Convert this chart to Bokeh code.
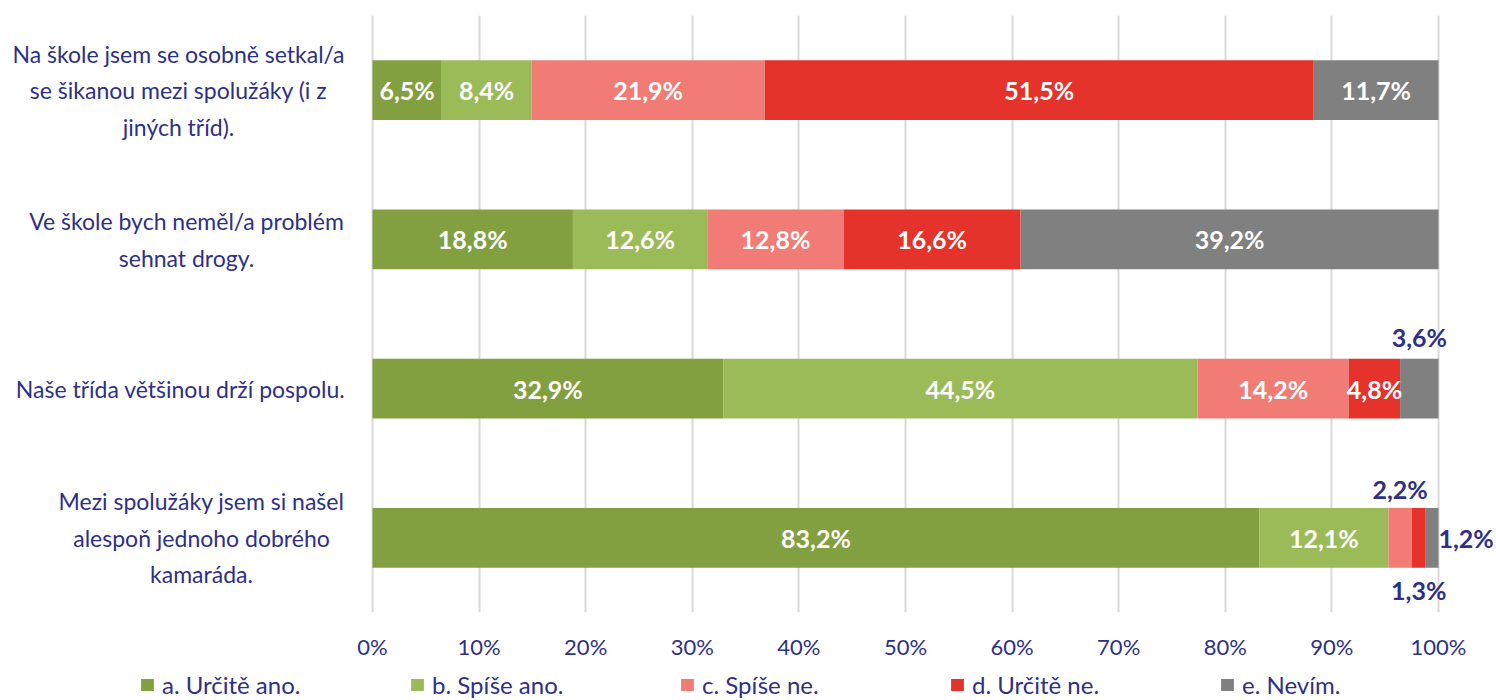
from bokeh.plotting import figure
from bokeh.layouts import column
from bokeh.models import (ColumnDataSource, FixedTicker, PrintfTickFormatter,
                          Legend, LegendItem, Label)
from bokeh.embed import file_html
from bokeh.resources import INLINE
from bokeh.core.properties import value

# ---------------- data ----------------
questions = [
    "Na škole jsem se osobně setkal/a\nse šikanou mezi spolužáky (i z\njiných tříd).",
    "Ve škole bych neměl/a problém\nsehnat drogy.",
    "Naše třída většinou drží pospolu.",
    "Mezi spolužáky jsem si našel\nalespoň jednoho dobrého\nkamaráda.",
]
series_names = ["a. Určitě ano.", "b. Spíše ano.", "c. Spíše ne.", "d. Určitě ne.", "e. Nevím."]
a_vals = [6.5, 18.8, 32.9, 83.2]
b_vals = [8.4, 12.6, 44.5, 12.1]
c_vals = [21.9, 12.8, 14.2, 2.2]
d_vals = [51.5, 16.6, 4.8, 1.3]
e_vals = [11.7, 39.2, 3.6, 1.2]
x_ticks = [0, 10, 20, 30, 40, 50, 60, 70, 80, 90, 100]

# ---------------- styling ----------------
colors = ["#82A03F", "#9BBB59", "#F07C75", "#E5322A", "#808080"]
NAVY = "#2E3087"
FONT = "Lato"
PX_PER_UNIT = 10.66       # screen pixels per percentage point
ZERO_PX = 372             # screen x of the 0 % line
W = 1494
# outside-label placement for small segments: (row, series) -> (mode, y_offset)
outside = {(2, 4): ("c", -52), (3, 2): ("c", -49), (3, 3): ("c", 52), (3, 4): ("l", 0)}
label_cx = [178, 186, 180, 201]  # screen x of question label centres

all_vals = [a_vals, b_vals, c_vals, d_vals, e_vals]
n = len(questions)
ys = [n - i - 0.5 for i in range(n)]

p = figure(width=W, height=666,
           x_range=(-ZERO_PX / PX_PER_UNIT, (W - ZERO_PX) / PX_PER_UNIT), y_range=(0, n),
           output_backend="svg", toolbar_location=None,
           min_border_left=0, min_border_right=0, min_border_top=15,
           min_border_bottom=54)
p.outline_line_color = None
p.background_fill_color = "white"
p.border_fill_color = "white"

left = [0.0] * n
renderers = []
lab_in = dict(x=[], y=[], t=[])
lab_out_c = dict(x=[], y=[], t=[], yo=[])
lab_out_l = dict(x=[], y=[], t=[], yo=[])
for s, vals in enumerate(all_vals):
    right = [l + v for l, v in zip(left, vals)]
    src = ColumnDataSource(dict(y=ys, left=left, right=right))
    r = p.hbar(y="y", left="left", right="right", height=0.4, source=src,
               fill_color=colors[s], line_color=None)
    renderers.append(r)
    for i, v in enumerate(vals):
        txt = f"{v:.1f}".replace(".", ",") + "%"
        if (i, s) in outside:
            mode, yo = outside[(i, s)]
            if mode == "c":
                lab_out_c["x"].append((left[i] + right[i]) / 2)
                lab_out_c["y"].append(ys[i]); lab_out_c["t"].append(txt); lab_out_c["yo"].append(yo)
            else:
                lab_out_l["x"].append(right[i])
                lab_out_l["y"].append(ys[i]); lab_out_l["t"].append(txt); lab_out_l["yo"].append(yo)
        else:
            lab_in["x"].append((left[i] + right[i]) / 2)
            lab_in["y"].append(ys[i]); lab_in["t"].append(txt)
    left = right

LBL = dict(text_font=value(FONT), text_font_style="bold", text_font_size="25px",
           text_baseline="middle")
p.text(x="x", y="y", text="t", source=ColumnDataSource(lab_in),
       text_align="center", text_color="white", **LBL)
p.text(x="x", y="y", text="t", y_offset="yo", source=ColumnDataSource(lab_out_c),
       text_align="center", text_color=NAVY, **LBL)
p.text(x="x", y="y", text="t", y_offset="yo", source=ColumnDataSource(lab_out_l),
       text_align="left", text_color=NAVY, **LBL)

# question labels
for i, q in enumerate(questions):
    p.add_layout(Label(x=label_cx[i], y=ys[i], x_units="screen", y_units="data", text=q,
                       text_align="center", text_baseline="middle", text_color=NAVY,
                       text_font=FONT, text_font_size="23px", text_line_height=1.3))

# axes
p.yaxis.visible = False
p.ygrid.visible = False
p.xaxis.ticker = FixedTicker(ticks=x_ticks)
p.xaxis.formatter = PrintfTickFormatter(format="%d%%")
p.xaxis.axis_line_color = None
p.xaxis.major_tick_line_color = None
p.xaxis.minor_tick_line_color = None
p.xaxis.major_label_text_color = NAVY
p.xaxis.major_label_text_font = FONT
p.xaxis.major_label_text_font_size = "22px"
p.xaxis.major_label_standoff = 14
p.xgrid.ticker = FixedTicker(ticks=x_ticks)
p.xgrid.grid_line_color = "#D9D9D9"
p.xgrid.grid_line_width = 2

# legend strip (separate figure so it can sit below the axis); its bars use the
# same data but lie far outside the strip's visible ranges, only the legend shows
lg = figure(width=W, height=34, x_range=(1000, 1100), y_range=(1000, 1001),
            output_backend="svg", toolbar_location=None,
            x_axis_type=None, y_axis_type=None,
            min_border_left=0, min_border_right=0, min_border_top=0, min_border_bottom=0)
lg.outline_line_color = None
lg.grid.visible = False
lg.border_fill_color = "white"
lg_renderers = []
for s, vals in enumerate(all_vals):
    lg_renderers.append(lg.hbar(y=ys, left=0, right=vals, height=0.4,
                                fill_color=colors[s], line_color=None))
legend = Legend(items=[LegendItem(label=series_names[s], renderers=[lg_renderers[s]]) for s in range(5)],
                orientation="horizontal", location=(139, 1),
                glyph_width=16, glyph_height=15, label_standoff=7, label_width=247,
                spacing=0, padding=0, margin=0, border_line_color=None,
                background_fill_alpha=0, label_height=24,
                label_text_font=FONT, label_text_font_size="24px", label_text_color=NAVY)
lg.add_layout(legend, "center")

layout = column(p, lg, spacing=0)
open("out.html", "w").write(file_html(layout, INLINE))
